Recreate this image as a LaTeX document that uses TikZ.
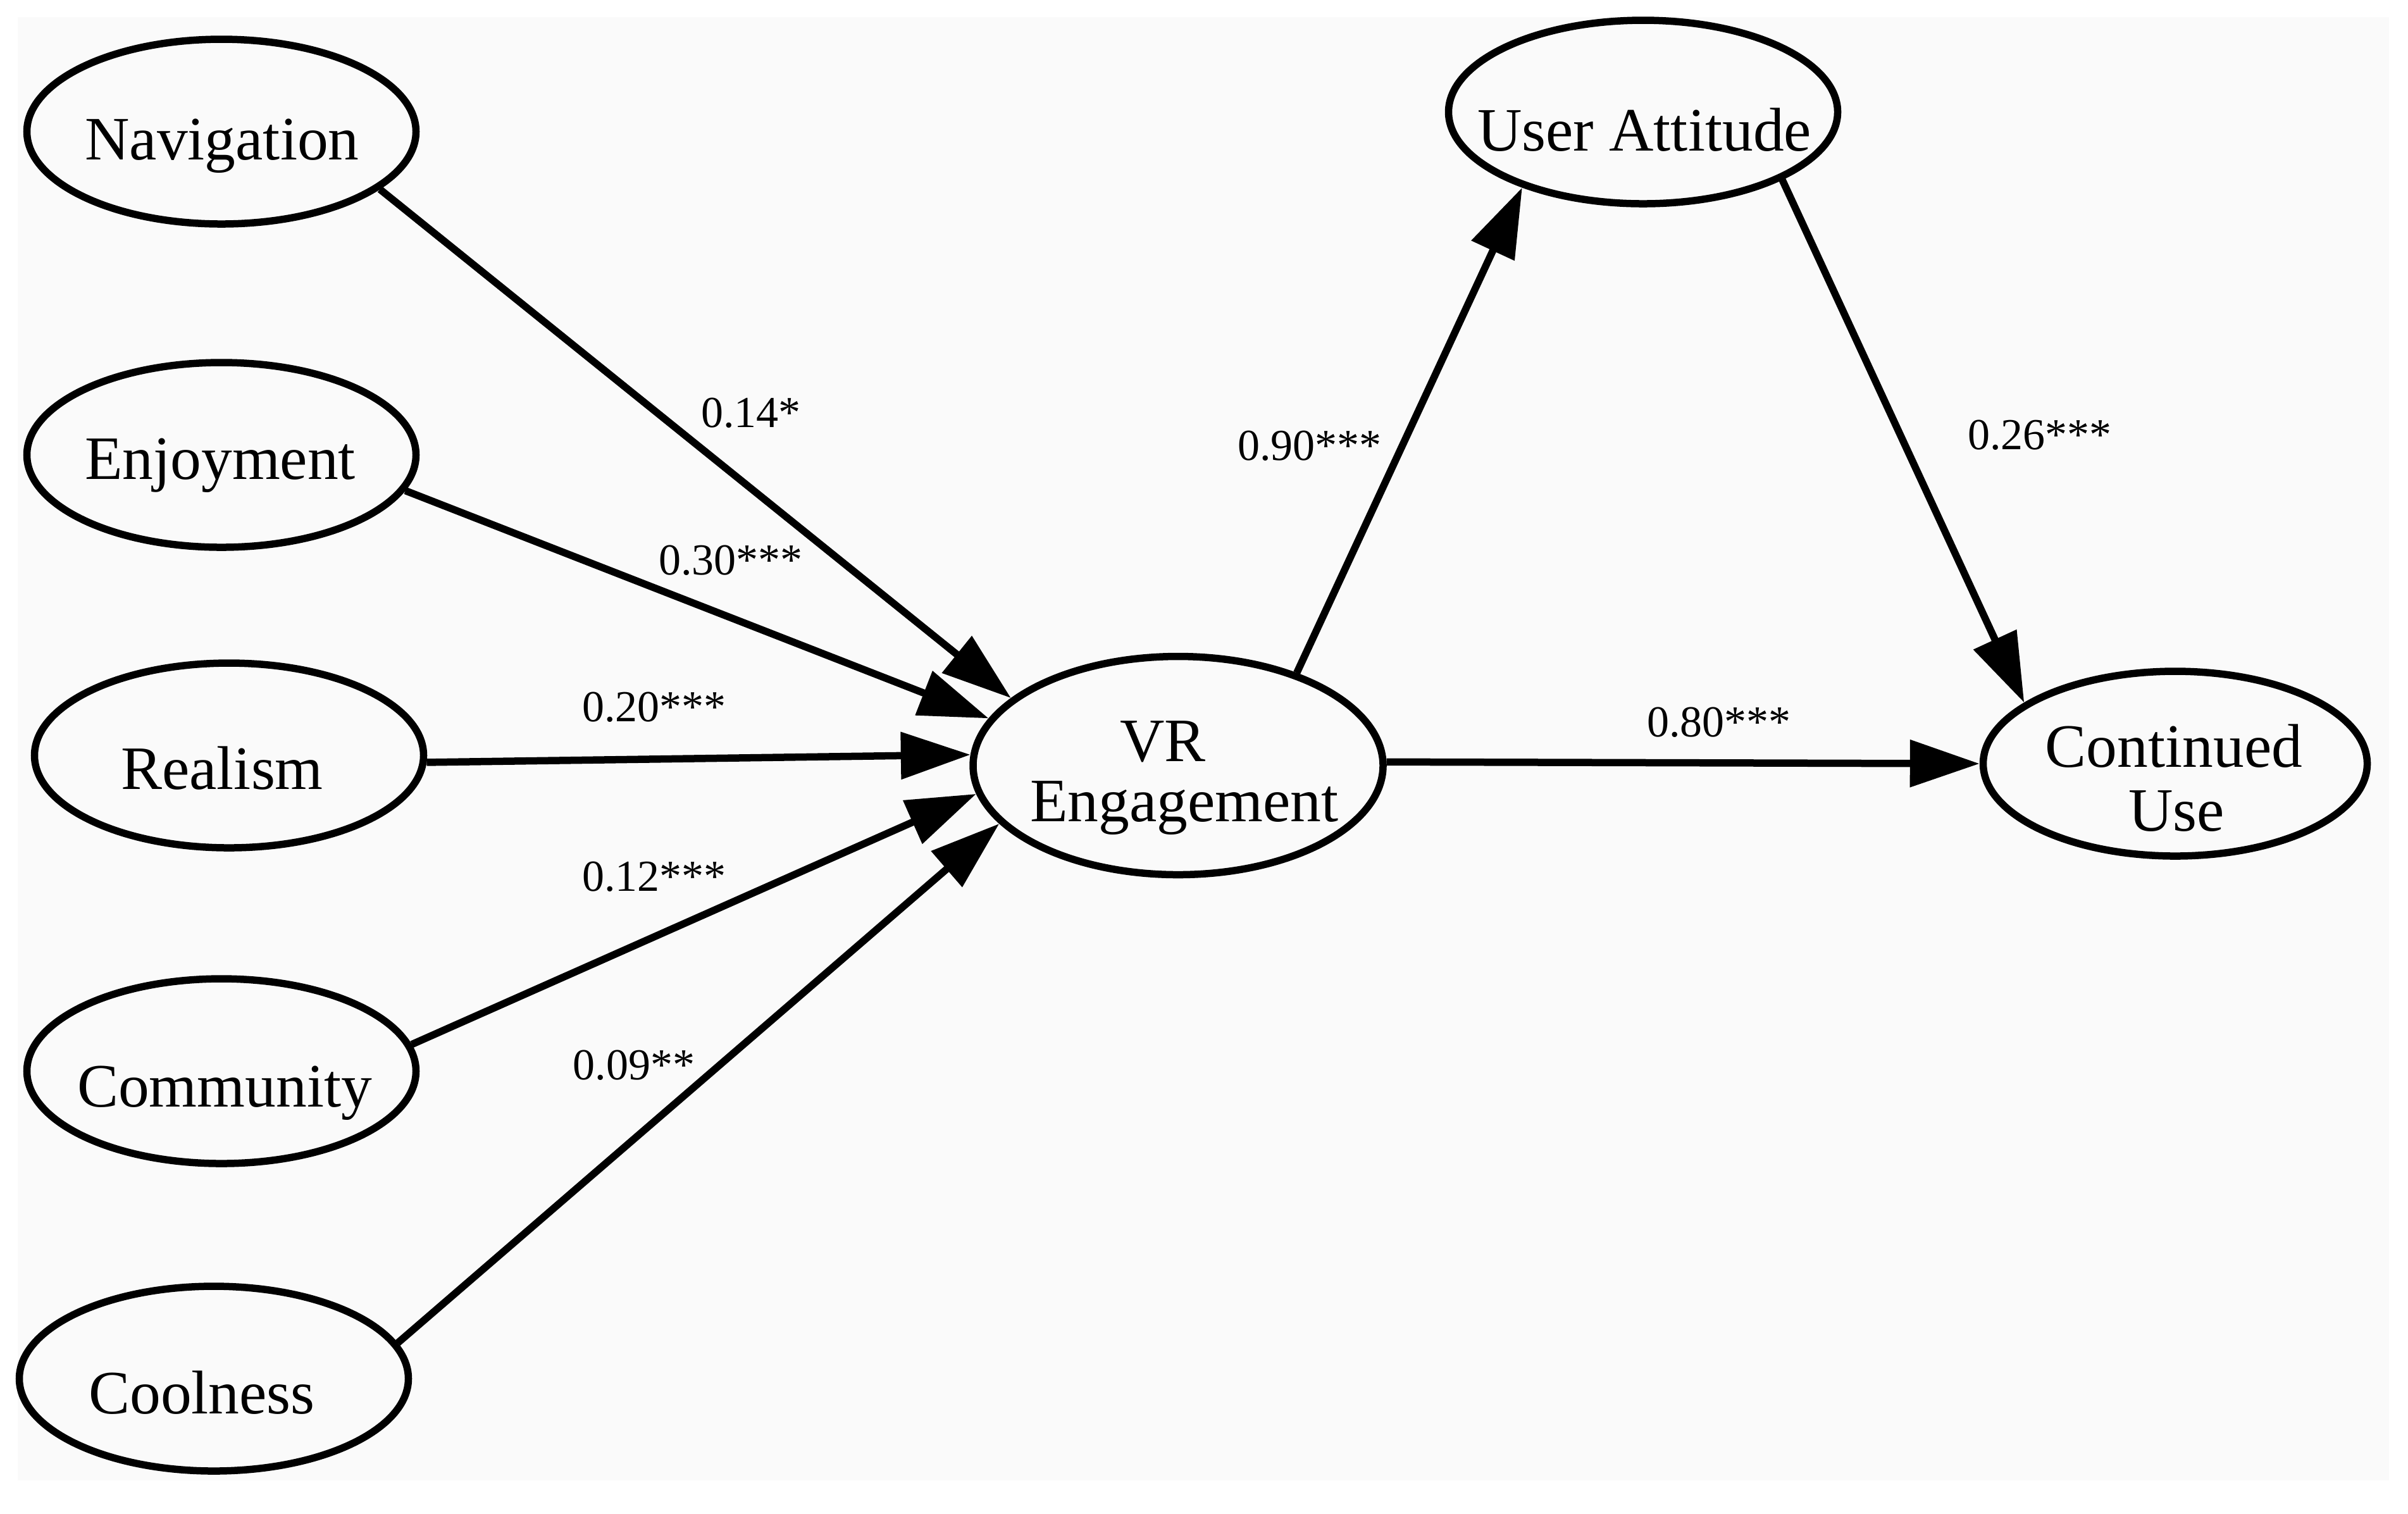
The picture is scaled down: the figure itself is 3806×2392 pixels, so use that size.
\documentclass[tikz,border=0pt]{standalone}
\usepackage{fontspec}
\setmainfont{Liberation Serif}
\usetikzlibrary{arrows.meta,shapes.geometric}
\definecolor{bgcol}{HTML}{FAFAFA}
\begin{document}
\begin{tikzpicture}[x=0.2pt,y=-0.2pt,
  ell/.style={draw, line width=2.3pt, ellipse, inner sep=0pt},
  lft/.style={ell, minimum width=123pt, minimum height=58.4pt},
  nlab/.style={anchor=base, font=\fontsize{19.5}{23}\selectfont, inner sep=0pt},
  plab/.style={anchor=base, font=\fontsize{14}{17}\selectfont, inner sep=0pt},
  conn/.style={line width=2.3pt, -{Triangle[length=22pt,width=14.5pt]}}]
\useasboundingbox (0,0) rectangle (3806,2392);
\fill[white] (0,0) rectangle (3806,2392);
\fill[bgcol] (28,27) rectangle (3776,2340);
% ellipses
\node[lft] (nav) at (350,208) {};
\node[lft] (enj) at (350,719) {};
\node[lft] (real) at (362,1194) {};
\node[lft] (comm) at (350,1693) {};
\node[lft] (cool) at (338,2179) {};
\node[ell, minimum width=129.6pt, minimum height=69pt] (vr) at (1862,1210) {};
\node[ell, minimum width=123pt, minimum height=58pt] (ua) at (2597,177) {};
\node[ell, minimum width=121.4pt, minimum height=58.4pt] (cu) at (3438,1207) {};
% texts
\node[nlab] (navt) at (351,252) {Navigation};
\node[nlab] (enjt) at (348,757) {Enjoyment};
\node[nlab] (realt) at (351,1247) {Realism};
\node[nlab] (commt) at (355,1749) {Community};
\node[nlab] (coolt) at (319,2234) {Coolness};
\node[nlab] (vrt1) at (1838,1203) {VR};
\node[nlab] (vrt2) at (1872,1298) {Engagement};
\node[nlab] (uat) at (2599,238) {User Attitude};
\node[nlab] (cut1) at (3436,1212) {Continued};
\node[nlab] (cut2) at (3440,1313) {Use};
% connectors
\draw[conn] (nav.-20.9) -- (vr.158.5);
\draw[conn] (enj.-11.5) -- (vr.166.8);
\draw[conn] (real.-2.0) -- (vr.177.6);
\draw[conn] (comm.8.9) -- (vr.188.5);
\draw[conn] (cool.11.7) -- (vr.198);
\draw[conn] (vr.38.6) -- (ua.212);
\draw[conn] (ua.-26.1) -- (cu.158.0);
\draw[conn] (vr.1.2) -- (cu.180);
% path labels
\node[plab] (l1) at (1187,675) {0.14*};
\node[plab] (l2) at (1155,908) {0.30***};
\node[plab] (l3) at (1034,1140) {0.20***};
\node[plab] (l4) at (1034,1408) {0.12***};
\node[plab] (l5) at (1002,1706) {0.09**};
\node[plab] (l6) at (2070,727) {0.90***};
\node[plab] (l7) at (3224,710) {0.26***};
\node[plab] (l8) at (2717,1164) {0.80***};
\end{tikzpicture}
\end{document}
